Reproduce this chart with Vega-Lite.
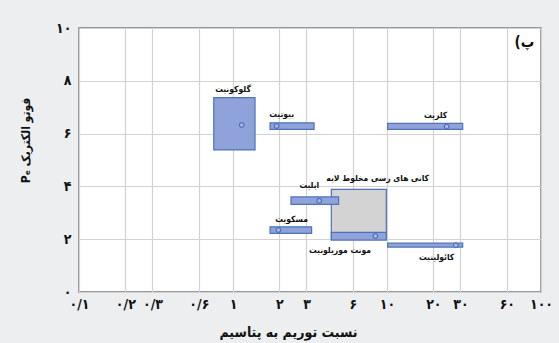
{
  "$schema": "https://vega.github.io/schema/vega-lite/v6.json",
  "autosize": "none",
  "width": 462,
  "height": 264,
  "padding": {"left": 79, "top": 28, "right": 18, "bottom": 51},
  "background": "#eceef0",
  "config": {
    "view": {"fill": "white", "stroke": "#7a7a7a", "strokeWidth": 1.5},
    "font": "DejaVu Sans Condensed, DejaVu Sans"
  },
  "datasets": {
    "minerals": [
      {"name": "گلوکونیت", "th_k_min": 0.75, "th_k_max": 1.39, "pe_min": 5.38, "pe_max": 7.36, "th_k": 1.14, "pe": 6.33},
      {"name": "بیوتیت", "th_k_min": 1.74, "th_k_max": 3.36, "pe_min": 6.16, "pe_max": 6.41, "th_k": 1.92, "pe": 6.29},
      {"name": "کلریت", "th_k_min": 10.1, "th_k_max": 31, "pe_min": 6.16, "pe_max": 6.39, "th_k": 24.4, "pe": 6.27},
      {"name": "ایلیت", "th_k_min": 2.38, "th_k_max": 4.85, "pe_min": 3.32, "pe_max": 3.6, "th_k": 3.63, "pe": 3.46},
      {"name": "مسکویت", "th_k_min": 1.74, "th_k_max": 3.24, "pe_min": 2.22, "pe_max": 2.47, "th_k": 1.97, "pe": 2.35},
      {"name": "مونت موریلونیت", "th_k_min": 4.35, "th_k_max": 9.9, "pe_min": 1.97, "pe_max": 2.26, "th_k": 8.4, "pe": 2.12},
      {"name": "کائولینیت", "th_k_min": 10.1, "th_k_max": 31, "pe_min": 1.7, "pe_max": 1.85, "th_k": 28.0, "pe": 1.77}
    ],
    "mixed": [
      {"name": "کانی های رسی مخلوط لایه", "th_k_min": 4.35, "th_k_max": 9.9, "pe_min": 1.97, "pe_max": 3.89}
    ],
    "labels": [
      {"text": "گلوکونیت", "th_k": 1.0, "pe": 7.69},
      {"text": "بیوتیت", "th_k": 2.07, "pe": 6.74},
      {"text": "کلریت", "th_k": 20.7, "pe": 6.7},
      {"text": "ایلیت", "th_k": 3.13, "pe": 4.05},
      {"text": "کانی های رسی مخلوط لایه", "th_k": 8.7, "pe": 4.32},
      {"text": "مسکویت", "th_k": 2.4, "pe": 2.77},
      {"text": "مونت موریلونیت", "th_k": 4.95, "pe": 1.59},
      {"text": "کائولینیت", "th_k": 21.0, "pe": 1.34}
    ],
    "panel": [
      {"text": "(پ", "th_k": 78, "pe": 9.47}
    ]
  },
  "encoding": {
    "x": {
      "field": "th_k",
      "type": "quantitative",
      "scale": {"type": "log", "domain": [0.1, 100], "nice": false},
      "axis": {
        "values": [0.1, 0.2, 0.3, 0.6, 1, 2, 3, 6, 10, 20, 30, 60, 100],
        "labelExpr": "datum.value == 0.1 ? '۰/۱' : datum.value == 0.2 ? '۰/۲' : datum.value == 0.3 ? '۰/۳' : datum.value == 0.6 ? '۰/۶' : datum.value == 1 ? '۱' : datum.value == 2 ? '۲' : datum.value == 3 ? '۳' : datum.value == 6 ? '۶' : datum.value == 10 ? '۱۰' : datum.value == 20 ? '۲۰' : datum.value == 30 ? '۳۰' : datum.value == 60 ? '۶۰' : '۱۰۰'",
        "title": "نسبت توریم به پتاسیم",
        "titleFontSize": 14,
        "titleFontWeight": "bold",
        "titleColor": "#111",
        "titleX": 209,
        "titleY": 40,
        "titleBaseline": "middle",
        "titleAnchor": "start",
        "titleAlign": "center",
        "labelFontSize": 14,
        "labelFontWeight": "bold",
        "labelColor": "#111",
        "labelPadding": 5,
        "labelFlush": false,
        "labelOverlap": false,
        "ticks": false,
        "domain": false,
        "grid": true,
        "gridColor": "#d2d2d2",
        "gridWidth": 1.2
      }
    },
    "y": {
      "field": "pe",
      "type": "quantitative",
      "scale": {"domain": [0, 10], "nice": false},
      "axis": {
        "values": [0, 2, 4, 6, 8, 10],
        "labelExpr": "datum.value == 0 ? '۰' : datum.value == 2 ? '۲' : datum.value == 4 ? '۴' : datum.value == 6 ? '۶' : datum.value == 8 ? '۸' : '۱۰'",
        "title": "Pₑ فوتو الکتریک",
        "titleFontSize": 12,
        "titleFontWeight": "bold",
        "titleColor": "#111",
        "titleAngle": -90,
        "titleX": -54,
        "titleY": 112,
        "titleBaseline": "middle",
        "titleAlign": "center",
        "labelFontSize": 14,
        "labelFontWeight": "bold",
        "labelColor": "#111",
        "labelPadding": 8,
        "labelFlush": false,
        "ticks": false,
        "domain": false,
        "grid": true,
        "gridColor": "#d2d2d2",
        "gridWidth": 1.2
      }
    }
  },
  "layer": [
    {
      "data": {"name": "mixed"},
      "mark": {"type": "rect", "fill": "#d3d3d3", "stroke": "#4f72b8", "strokeWidth": 1.2},
      "encoding": {
        "x": {"field": "th_k_min", "type": "quantitative"},
        "x2": {"field": "th_k_max"},
        "y": {"field": "pe_min", "type": "quantitative"},
        "y2": {"field": "pe_max"}
      }
    },
    {
      "data": {"name": "minerals"},
      "mark": {"type": "rect", "fill": "#8fa2da", "stroke": "#4f72b8", "strokeWidth": 1.2},
      "encoding": {
        "x": {"field": "th_k_min", "type": "quantitative"},
        "x2": {"field": "th_k_max"},
        "y": {"field": "pe_min", "type": "quantitative"},
        "y2": {"field": "pe_max"}
      }
    },
    {
      "data": {"name": "minerals"},
      "mark": {"type": "point", "shape": "circle", "size": 22, "filled": true, "fill": "#a9b8e6", "stroke": "#4f72b8", "strokeWidth": 1.2, "opacity": 1},
      "encoding": {}
    },
    {
      "data": {"name": "labels"},
      "mark": {"type": "text", "fontSize": 8.5, "fontWeight": "bold", "color": "#111", "baseline": "middle", "align": "center"},
      "encoding": {"text": {"field": "text"}}
    },
    {
      "data": {"name": "panel"},
      "mark": {"type": "text", "fontSize": 15, "fontWeight": "bold", "color": "#111", "baseline": "middle", "align": "center"},
      "encoding": {"text": {"field": "text"}}
    }
  ]
}
